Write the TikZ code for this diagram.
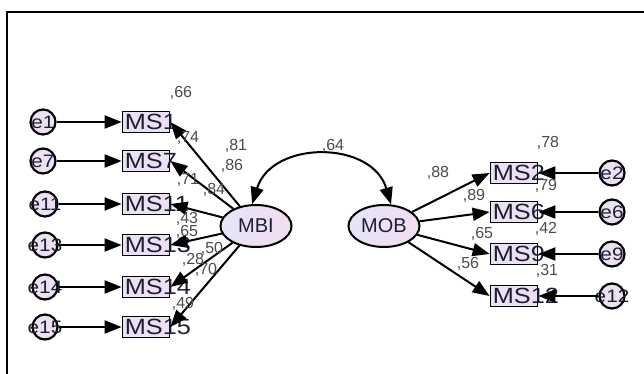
\documentclass[tikz,border=0pt]{standalone}
\usepackage{fontspec}
\setmainfont{Liberation Sans}
\newfontfamily\widesans[FakeStretch=1.15]{Liberation Sans}
\usetikzlibrary{arrows.meta,shapes.geometric}
\definecolor{lav}{HTML}{ECE1F3}
\definecolor{ellL}{HTML}{E6E4F8}
\definecolor{ellR}{HTML}{F3DCF1}
\definecolor{ink}{HTML}{1E1E33}
\tikzset{
  errc/.style={circle,draw=black,line width=2.2pt,fill=lav,minimum size=25pt,inner sep=0pt},
  errtext/.style={inner sep=0pt,text=ink,font=\widesans\fontsize{18}{18}\selectfont},
  msbox/.style={rectangle,draw=black,line width=1.8pt,fill=lav,minimum width=47pt,minimum height=21pt,inner sep=0pt},
  mstext/.style={anchor=west,inner sep=0pt,text=ink,font=\widesans\fontsize{22}{22}\selectfont},
  latent/.style={ellipse,draw=black,line width=2pt,left color=ellL,right color=ellR,minimum width=71pt,minimum height=42pt,inner sep=0pt,text=ink,font=\fontsize{20}{20}\selectfont},
  lab/.style={inner sep=0pt,text=black!70,font=\fontsize{16}{16}\selectfont},
  path/.style={draw=black,line width=2pt,-{Triangle[length=17pt,width=13pt]}},
}
\begin{document}
\begin{tikzpicture}[x=1pt,y=-1pt]
\useasboundingbox (0,0) rectangle (644,374);
\fill[white] (0,0) rectangle (644,374);
\draw[line width=2.2pt] (7,374) -- (7,12) -- (644,12);

% latent variables
\node[latent] (MBI) at (256,226) {MBI};
\node[latent] (MOB) at (384,226) {MOB};

% left indicators
\foreach \n/\y/\ex in {1/122/43,7/161/43,11/204/45,13/245/45,14/287/45,15/327/45}{
  \node[msbox] (b\n) at (146,\y) {};
  \node[mstext] (t\n) at ([xshift=3pt]b\n.west) {MS\n};
  \node[errc] (e\n) at (\ex,\y) {};
  \node[errtext] (et\n) at (e\n) {e\n};
  \draw[path] (e\n) -- (b\n);
  \draw[path] (MBI) -- (b\n.east);
}
% right indicators
\foreach \n/\y in {2/173,6/212,9/254,12/296}{
  \node[msbox] (b\n) at (514,\y) {};
  \node[mstext] (t\n) at ([xshift=3pt]b\n.west) {MS\n};
  \node[errc] (e\n) at (612,\y) {};
  \node[errtext] (et\n) at (e\n) {e\n};
  \draw[path] (e\n) -- (b\n);
  \draw[path] (MOB) -- (b\n.west);
}

% covariance
\draw[draw=black,line width=2pt,{Triangle[length=17pt,width=13pt]}-{Triangle[length=17pt,width=13pt]}]
  (MBI.100) .. controls (272,140) and (372,140) .. (MOB.72);

% estimates
\node[lab] (l1) at (181,93) {,66};
\node[lab] (l2) at (188,138) {,74};
\node[lab] (l3) at (236,146) {,81};
\node[lab] (l4) at (232,166) {,86};
\node[lab] (l5) at (188,180) {,71};
\node[lab] (l6) at (214,190) {,84};
\node[lab] (l7) at (187,219) {,43};
\node[lab] (l8) at (187,232) {,65};
\node[lab] (l9) at (193,260) {,28};
\node[lab] (l10) at (212,249) {,50};
\node[lab] (l11) at (206,270) {,70};
\node[lab] (l12) at (183,304) {,49};
\node[lab] (l13) at (333,146) {,64};
\node[lab] (l14) at (438,173) {,88};
\node[lab] (l15) at (548,143) {,78};
\node[lab] (l16) at (546,186) {,79};
\node[lab] (l17) at (474,196) {,89};
\node[lab] (l18) at (546,229) {,42};
\node[lab] (l19) at (482,234) {,65};
\node[lab] (l20) at (468,264) {,56};
\node[lab] (l21) at (547,271) {,31};
\end{tikzpicture}
\end{document}
